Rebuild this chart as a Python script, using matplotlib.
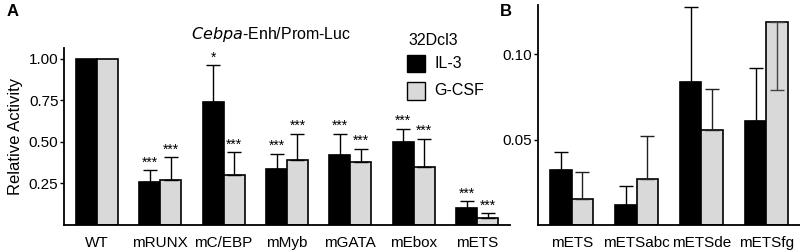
import matplotlib.pyplot as plt
import numpy as np

# panel A data
constructs_a = ['WT', 'mRUNX', 'mC/EBP', 'mMyb', 'mGATA', 'mEbox', 'mETS']
il3_a = [1.00, 0.26, 0.74, 0.34, 0.42, 0.50, 0.10]
il3_a_err = [0.0, 0.07, 0.22, 0.09, 0.13, 0.08, 0.045]
gcsf_a = [1.00, 0.27, 0.30, 0.39, 0.38, 0.35, 0.045]
gcsf_a_err = [0.0, 0.14, 0.14, 0.16, 0.08, 0.17, 0.025]
stars_il3_a = ['', '***', '*', '***', '***', '***', '***']
stars_gcsf_a = ['', '***', '***', '***', '***', '***', '***']

# panel B data
constructs_b = ['mETS', 'mETSabc', 'mETSde', 'mETSfg']
il3_b = [0.032, 0.012, 0.084, 0.061]
il3_b_err = [0.011, 0.011, 0.044, 0.031]
gcsf_b = [0.015, 0.027, 0.056, 0.119]
gcsf_b_err = [0.016, 0.025, 0.024, 0.040]
gcsf_b_err_down = [False, False, False, True]

black = '#000000'
grey = '#d9d9d9'
w = 0.33

plt.rcParams['font.family'] = ['Liberation Sans', 'DejaVu Sans']
fig = plt.figure(figsize=(8, 2.52), dpi=100)

axA = fig.add_axes([0.08, 0.107, 0.5575, 0.703])
axB = fig.add_axes([0.6725, 0.107, 0.3275, 0.873])

def style(ax):
    for s in ['top', 'right']:
        ax.spines[s].set_visible(False)
    for s in ['left', 'bottom']:
        ax.spines[s].set_linewidth(1.3)
    ax.tick_params(axis='x', length=0, pad=8, labelsize=11)
    ax.tick_params(axis='y', length=3, width=1, pad=1, labelsize=11)

# panel A
x = np.arange(len(constructs_a))
axA.bar(x - w / 2, il3_a, w, color=black, edgecolor='black', linewidth=1.2)
axA.bar(x + w / 2, gcsf_a, w, color=grey, edgecolor='black', linewidth=1.2)
for i in range(len(x)):
    if il3_a_err[i] > 0:
        axA.errorbar(x[i] - w / 2, il3_a[i], yerr=[[0], [il3_a_err[i]]],
                     fmt='none', ecolor='black', elinewidth=1, capsize=5, capthick=1)
    if gcsf_a_err[i] > 0:
        axA.errorbar(x[i] + w / 2, gcsf_a[i], yerr=[[0], [gcsf_a_err[i]]],
                     fmt='none', ecolor='black', elinewidth=1, capsize=5, capthick=1)
    if stars_il3_a[i]:
        axA.text(x[i] - w / 2, il3_a[i] + il3_a_err[i] + 0.003, stars_il3_a[i],
                 ha='center', va='bottom', fontsize=10)
    if stars_gcsf_a[i]:
        axA.text(x[i] + w / 2, gcsf_a[i] + gcsf_a_err[i] + 0.003, stars_gcsf_a[i],
                 ha='center', va='bottom', fontsize=10)
axA.set_xlim(-0.52, 6.52)
axA.set_ylim(0, 1.066)
axA.set_yticks([0.25, 0.50, 0.75, 1.00])
axA.set_yticklabels(['0.25', '0.50', '0.75', '1.00'])
axA.set_xticks(x)
axA.set_xticklabels(constructs_a)
axA.set_ylabel('Relative Activity', fontsize=12, labelpad=4)
style(axA)
axA.text(0.465, 1.073, r'$\it{Cebpa}$-Enh/Prom-Luc', transform=axA.transAxes,
         ha='center', va='center', fontsize=11.5)

# legend
fig.text(0.541, 0.84, '32Dcl3', ha='center', va='center', fontsize=11.5)
fig.patches.append(plt.Rectangle((0.509, 0.715), 0.022, 0.068, transform=fig.transFigure,
                                 facecolor=black, edgecolor='black', lw=1))
fig.patches.append(plt.Rectangle((0.509, 0.605), 0.022, 0.068, transform=fig.transFigure,
                                 facecolor=grey, edgecolor='black', lw=1))
fig.text(0.543, 0.749, 'IL-3', ha='left', va='center', fontsize=11.5)
fig.text(0.543, 0.639, 'G-CSF', ha='left', va='center', fontsize=11.5)

# panel B
xb = np.arange(len(constructs_b))
axB.bar(xb - w / 2, il3_b, w, color=black, edgecolor='black', linewidth=1.2)
axB.bar(xb + w / 2, gcsf_b, w, color=grey, edgecolor='black', linewidth=1.2)
for i in range(len(xb)):
    axB.errorbar(xb[i] - w / 2, il3_b[i], yerr=[[0], [il3_b_err[i]]],
                 fmt='none', ecolor='black', elinewidth=1, capsize=5, capthick=1)
    if gcsf_b_err_down[i]:
        axB.errorbar(xb[i] + w / 2, gcsf_b[i], yerr=[[gcsf_b_err[i]], [0]],
                     fmt='none', ecolor='#444444', elinewidth=1, capsize=5, capthick=1)
    else:
        axB.errorbar(xb[i] + w / 2, gcsf_b[i], yerr=[[0], [gcsf_b_err[i]]],
                     fmt='none', ecolor='#222222', elinewidth=1, capsize=5, capthick=1)
axB.set_xlim(-0.52, 3.52)
axB.set_ylim(0, 0.129)
axB.set_yticks([0.05, 0.10])
axB.set_yticklabels(['0.05', '0.10'])
axB.set_xticks(xb)
axB.set_xticklabels(constructs_b)
style(axB)

fig.text(0.008, 0.955, 'A', fontsize=12, fontweight='bold', va='center')
fig.text(0.625, 0.955, 'B', fontsize=12, fontweight='bold', va='center')

fig.savefig('out.png', dpi=100)
